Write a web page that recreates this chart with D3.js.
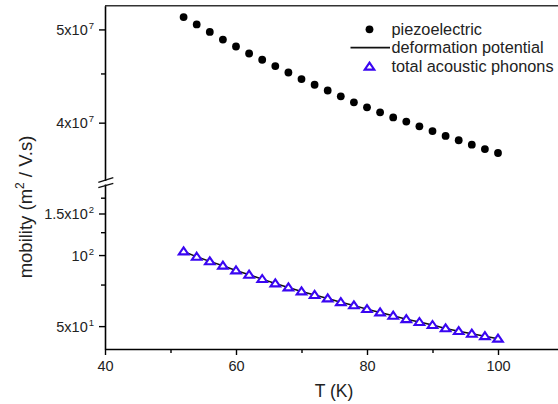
<!DOCTYPE html>
<html>
  <head>
    <title>Mobility vs T</title>
    <script src="https://cdn.jsdelivr.net/npm/d3@7/dist/d3.min.js"></script>
    <style>
      body { margin: 0; background: #fff; }
      text { font-family: "Liberation Sans", Arial, sans-serif; fill: #222; }
    </style>
  </head>
  <body>
    <svg width="558" height="404"></svg>

    <script>
      // temperature (K)
      const temps = [52, 54, 56, 58, 60, 62, 64, 66, 68, 70, 72, 74, 76,
                     78, 80, 82, 84, 86, 88, 90, 92, 94, 96, 98, 100];

      // piezoelectric mobility (upper panel)
      const piezo = [5.15e7, 5.06e7, 4.97e7, 4.88e7, 4.80e7, 4.72e7, 4.65e7, 4.58e7, 4.51e7,
                     4.44e7, 4.38e7, 4.32e7, 4.26e7, 4.20e7, 4.15e7, 4.10e7, 4.05e7, 4.01e7,
                     3.965e7, 3.92e7, 3.875e7, 3.835e7, 3.795e7, 3.755e7, 3.72e7];

      // deformation potential (line) and total acoustic phonons (triangles)
      const deformation = [103.6, 98.3, 94.0, 90.1, 86.0, 82.5, 79.1, 75.8, 72.9, 70.1, 67.7, 65.5,
                           63.1, 61.2, 59.0, 57.1, 55.3, 53.5, 52.0, 50.5, 48.9, 47.6, 46.4, 45.3, 44.2];
      const total = [103.6, 98.3, 94.0, 90.1, 86.0, 82.5, 79.1, 75.8, 72.9, 70.1, 67.7, 65.5,
                     63.1, 61.2, 59.0, 57.1, 55.3, 53.5, 52.0, 50.5, 48.9, 47.6, 46.4, 45.3, 44.2];

      const xTicks = [40, 60, 80, 100];
      const xMinor = [50, 70, 90];
      const upperTicks = [4e7, 5e7];
      const upperLabels = [["4x10", "7"], ["5x10", "7"]];
      const upperMinor = [4.5e7];
      const lowerTicks = [50, 100, 150];
      const lowerLabels = [["5x10", "1"], ["10", "2"], ["1.5x10", "2"]];
      const lowerMinor = [75, 125, 175];

      const legendItems = ["piezoelectric", "deformation potential", "total acoustic phonons"];

      const svg = d3.select("svg");
      const blue = "#3a06f2";

      const plotLeft = 105, plotTop = 5.7, plotBottom = 349;
      const breakTop = 180.5, breakBottom = 184.5;

      const xScale = d3.scaleLinear().domain([40, 110]).range([plotLeft, 563.5]);
      const yUpper = d3.scaleLog().domain([3.483e7, 5.292e7]).range([breakTop, plotTop]);
      const yLower = d3.scaleLog().domain([40, 200]).range([plotBottom, breakBottom - 0.5]);

      // frame line on top
      svg.append("line")
        .attr("x1", plotLeft).attr("x2", 558).attr("y1", plotTop).attr("y2", plotTop)
        .attr("stroke", "#333").attr("stroke-width", 1.6);

      // x axis
      const xAxisG = svg.append("g")
        .attr("transform", `translate(0,${plotBottom})`)
        .call(d3.axisBottom(xScale).tickValues(xTicks).tickSize(6).tickPadding(6).tickSizeOuter(0));
      xAxisG.select(".domain").attr("stroke-width", 1.6);
      xAxisG.selectAll(".tick line").attr("stroke-width", 1.4);
      xAxisG.selectAll("text").attr("font-size", "14.5px").attr("fill", "#222")
        .attr("font-family", "Liberation Sans, Arial, sans-serif");
      svg.append("g")
        .attr("transform", `translate(0,${plotBottom})`)
        .call(d3.axisBottom(xScale).tickValues(xMinor).tickSize(4).tickFormat(""))
        .call(g => g.select(".domain").remove())
        .selectAll("line").attr("stroke-width", 1.4);

      // y axes (two segments)
      function yAxis(scale, ticks, labels, minor) {
        const g = svg.append("g").attr("transform", `translate(${plotLeft},0)`);
        g.call(d3.axisLeft(scale).tickValues(ticks).tickSize(6).tickPadding(5).tickSizeOuter(0)
          .tickFormat(""));
        g.select(".domain").attr("stroke-width", 1.6);
        g.selectAll(".tick line").attr("stroke-width", 1.4);
        g.selectAll(".tick text").each(function (d, i) {
          const t = d3.select(this).attr("font-size", "14.5px").attr("fill", "#222")
            .attr("font-family", "Liberation Sans, Arial, sans-serif").attr("dy", "0.36em");
          t.append("tspan").text(labels[i][0]);
          t.append("tspan").attr("font-size", "9.5px").attr("dy", "-0.65em").attr("dx", "1").text(labels[i][1]);
        });
        svg.append("g").attr("transform", `translate(${plotLeft},0)`)
          .call(d3.axisLeft(scale).tickValues(minor).tickSize(4).tickFormat(""))
          .call(a => a.select(".domain").remove())
          .selectAll("line").attr("stroke-width", 1.4);
      }
      yAxis(yUpper, upperTicks, upperLabels, upperMinor);
      yAxis(yLower, lowerTicks, lowerLabels, lowerMinor);

      // break marks
      const brk = svg.append("g").attr("stroke", "#111").attr("stroke-width", 1.4);
      brk.append("line").attr("x1", 98.3).attr("y1", 182.3).attr("x2", 113.3).attr("y2", 177.7);
      brk.append("line").attr("x1", 98.3).attr("y1", 187.7).attr("x2", 113.3).attr("y2", 183.3);

      // axis titles
      svg.append("text")
        .attr("x", 334).attr("y", 397)
        .attr("text-anchor", "middle")
        .attr("font-size", "17.5px")
        .text("T (K)");

      const yt = svg.append("text")
        .attr("transform", "translate(32,207) rotate(-90)")
        .attr("text-anchor", "middle")
        .attr("font-size", "18.5px");
      yt.append("tspan").text("mobility (m");
      yt.append("tspan").attr("font-size", "12px").attr("dy", "-0.7em").text("2");
      yt.append("tspan").attr("dy", "0.45em").text(" / V.s)");

      const triPath = "M0,-4.1L4.8,2.9L-4.8,2.9Z";

      // deformation potential line
      const line = d3.line()
        .x((d, i) => xScale(temps[i]))
        .y(d => yLower(d));
      svg.append("path")
        .datum(deformation)
        .attr("d", line)
        .attr("fill", "none")
        .attr("stroke", "#111")
        .attr("stroke-width", 1.5);

      // total acoustic phonons
      svg.selectAll(".tri")
        .data(total)
        .enter()
        .append("path")
          .attr("class", "tri")
          .attr("d", triPath)
          .attr("transform", (d, i) => `translate(${xScale(temps[i])},${yLower(d)})`)
          .attr("fill", "#fff")
          .attr("stroke", blue)
          .attr("stroke-width", 2.1);

      // piezoelectric
      svg.selectAll(".dot")
        .data(piezo)
        .enter()
        .append("circle")
          .attr("class", "dot")
          .attr("cx", (d, i) => xScale(temps[i]))
          .attr("cy", d => yUpper(d))
          .attr("r", 3.9)
          .attr("fill", "#000");

      // legend
      const lg = svg.append("g");
      const rows = [29.3, 47.7, 66.7];
      lg.append("circle").attr("cx", 369.5).attr("cy", rows[0]).attr("r", 3.9).attr("fill", "#000");
      lg.append("line").attr("x1", 350.5).attr("x2", 390).attr("y1", rows[1]).attr("y2", rows[1])
        .attr("stroke", "#111").attr("stroke-width", 1.8);
      lg.append("path").attr("d", triPath).attr("transform", `translate(369.5,${rows[2]})`)
        .attr("fill", "#fff").attr("stroke", blue).attr("stroke-width", 2.1);
      lg.selectAll("text")
        .data(legendItems)
        .enter()
        .append("text")
          .attr("x", 391.5)
          .attr("y", (d, i) => rows[i])
          .attr("dy", "0.35em")
          .attr("font-size", "16.3px")
          .text(d => d);
    </script>
  </body>
</html>
